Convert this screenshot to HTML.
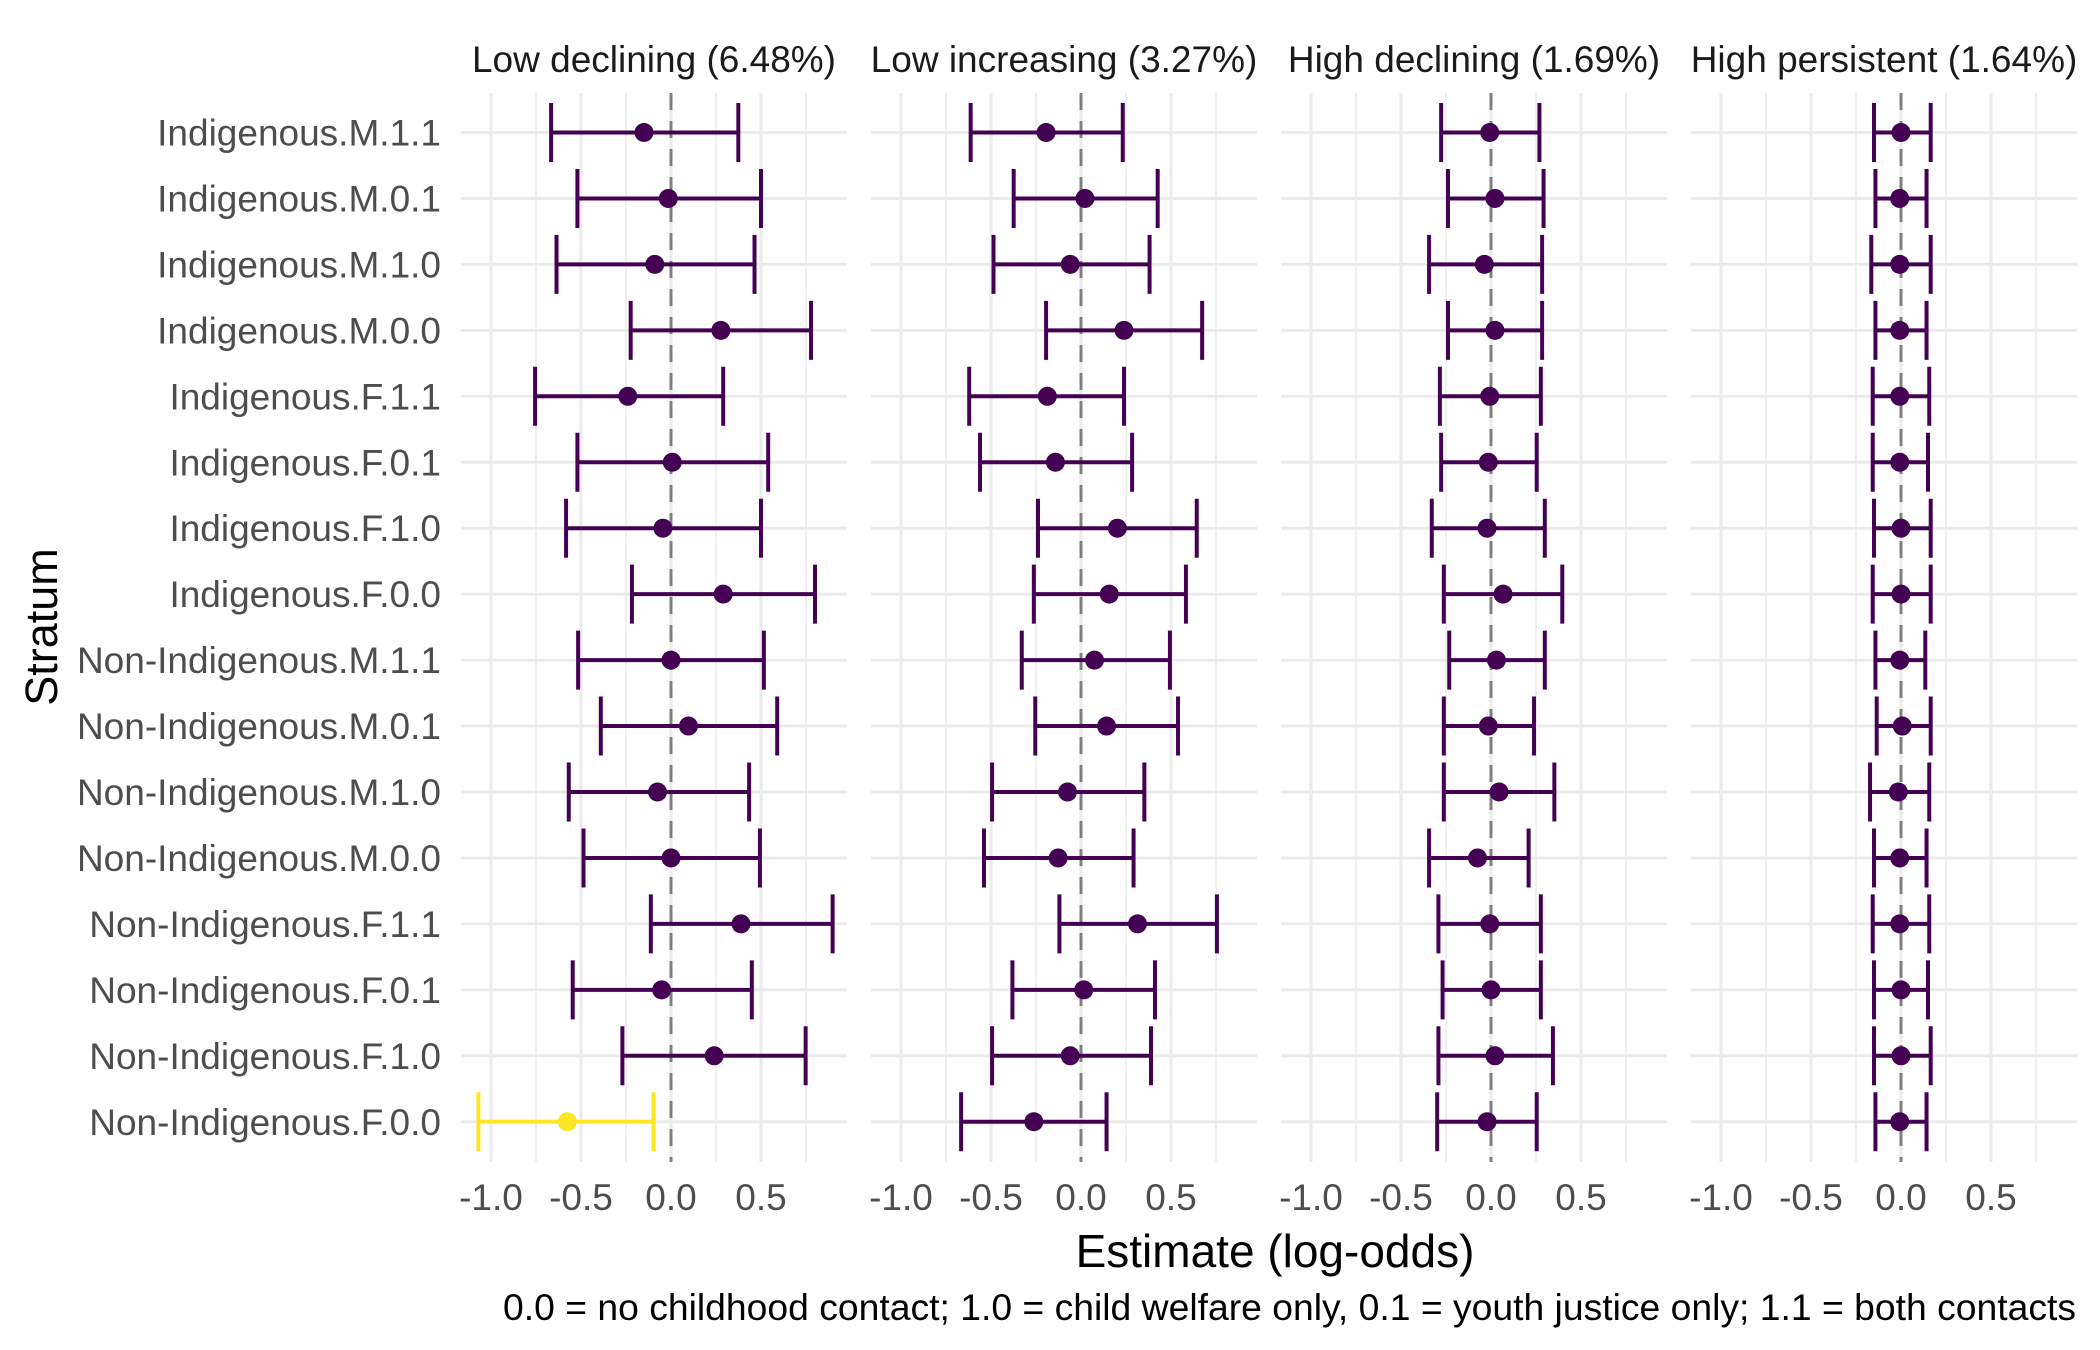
<!DOCTYPE html>
<html><head><meta charset="utf-8"><style>
html,body{margin:0;padding:0;background:#fff;}
svg{display:block;font-family:"Liberation Sans",sans-serif;}
</style></head><body>
<svg id="chart" width="2100" height="1350" viewBox="0 0 2100 1350" xmlns="http://www.w3.org/2000/svg">
<g id="grid"></g><g id="marks"></g><g id="labels"></g>
<text x="1275" y="1267" font-size="46" text-anchor="middle" fill="#000">Estimate (log-odds)</text>
<text transform="translate(57,627) rotate(-90)" font-size="45" text-anchor="middle" fill="#000">Stratum</text>
<text x="2076" y="1320" font-size="37.3" text-anchor="end" fill="#000">0.0 = no childhood contact; 1.0 = child welfare only, 0.1 = youth justice only; 1.1 = both contacts</text>
</svg>
<script>
const strata = ["Indigenous.M.1.1","Indigenous.M.0.1","Indigenous.M.1.0","Indigenous.M.0.0","Indigenous.F.1.1","Indigenous.F.0.1","Indigenous.F.1.0","Indigenous.F.0.0","Non-Indigenous.M.1.1","Non-Indigenous.M.0.1","Non-Indigenous.M.1.0","Non-Indigenous.M.0.0","Non-Indigenous.F.1.1","Non-Indigenous.F.0.1","Non-Indigenous.F.1.0","Non-Indigenous.F.0.0"];
const panelTitles = ["Low declining (6.48%)","Low increasing (3.27%)","High declining (1.69%)","High persistent (1.64%)"];
const tickValues = [-1.0,-0.5,0.0,0.5];
const tickLabels = ["-1.0","-0.5","0.0","0.5"];
const highlighted = [15];
const est1 = [-0.15,-0.015,-0.09,0.277,-0.24,0.007,-0.045,0.29,0,0.097,-0.075,0,0.389,-0.052,0.24,-0.576];
const lo1 = [-0.666,-0.52,-0.636,-0.224,-0.755,-0.52,-0.583,-0.217,-0.516,-0.39,-0.568,-0.486,-0.112,-0.546,-0.27,-1.07];
const hi1 = [0.374,0.50,0.464,0.778,0.29,0.54,0.50,0.80,0.516,0.59,0.434,0.494,0.898,0.449,0.748,-0.097];
const est2 = [-0.194,0.022,-0.06,0.239,-0.187,-0.142,0.202,0.157,0.075,0.142,-0.075,-0.127,0.314,0.015,-0.06,-0.262];
const lo2 = [-0.613,-0.374,-0.486,-0.194,-0.621,-0.561,-0.239,-0.262,-0.329,-0.254,-0.494,-0.539,-0.12,-0.381,-0.494,-0.666];
const hi2 = [0.232,0.426,0.381,0.673,0.239,0.284,0.643,0.583,0.494,0.539,0.352,0.292,0.755,0.411,0.389,0.142];
const est3 = [-0.007,0.022,-0.037,0.022,-0.007,-0.015,-0.022,0.067,0.03,-0.015,0.045,-0.075,-0.007,0,0.022,-0.022];
const lo3 = [-0.277,-0.239,-0.344,-0.239,-0.284,-0.277,-0.329,-0.262,-0.232,-0.262,-0.262,-0.344,-0.292,-0.269,-0.292,-0.299];
const hi3 = [0.269,0.292,0.284,0.284,0.277,0.254,0.299,0.396,0.299,0.239,0.352,0.209,0.277,0.277,0.344,0.254];
const est4 = [0,-0.007,-0.007,-0.007,-0.007,-0.007,0,0,-0.007,0.007,-0.015,-0.007,-0.007,0,0,-0.007];
const lo4 = [-0.15,-0.142,-0.165,-0.142,-0.157,-0.157,-0.15,-0.157,-0.142,-0.135,-0.172,-0.15,-0.157,-0.15,-0.15,-0.142];
const hi4 = [0.165,0.142,0.165,0.142,0.157,0.15,0.165,0.165,0.135,0.165,0.157,0.142,0.157,0.15,0.165,0.142];
const estimates = [est1,est2,est3,est4];
const lows = [lo1,lo2,lo3,lo4];
const highs = [hi1,hi2,hi3,hi4];

const NS="http://www.w3.org/2000/svg";
const panelLeft0=461, panelStep=410, panelW=386, zero0=671, unit=180;
const panelTop=93, panelBottom=1162, row0=132.5, rowStep=65.95;
function xScale(p,v){return zero0+p*panelStep+v*unit;}
function yScale(i){return row0+i*rowStep;}
function el(tag,attrs,parent){const e=document.createElementNS(NS,tag);for(const k in attrs)e.setAttribute(k,attrs[k]);parent.appendChild(e);return e;}
const grid=document.getElementById('grid'), marks=document.getElementById('marks'), labels=document.getElementById('labels');

for(let p=0;p<4;p++){
  const pl=panelLeft0+p*panelStep;
  for(let k=0;k<8;k++){
    const v=-1+k*0.25;
    const major=(k%2===0);
    const g=el('line',{x1:xScale(p,v),x2:xScale(p,v),y1:panelTop,y2:panelBottom,stroke:'#ebebeb','stroke-width':major?3:1.5},grid);
    
    
  }
  strata.forEach((s,i)=>{
    const g=el('line',{x1:pl,x2:pl+panelW,y1:yScale(i),y2:yScale(i),stroke:'#ebebeb','stroke-width':3},grid);
    
    
  });
  const z=el('line',{x1:xScale(p,0),x2:xScale(p,0),y1:panelTop,y2:panelBottom,stroke:'#7f7f7f','stroke-width':3,'stroke-dasharray':'17,11'},grid);
  
  
  const t=el('text',{x:pl+panelW/2,y:72,'font-size':37,'text-anchor':'middle',fill:'#1a1a1a'},labels);
  t.textContent=panelTitles[p];
  
  
  tickValues.forEach((v,k)=>{
    const tl=el('text',{x:xScale(p,v),y:1210,'font-size':37,'text-anchor':'middle',fill:'#4d4d4d'},labels);
    tl.textContent=tickLabels[k];
    
    
  });
  strata.forEach((s,i)=>{
    const col=highlighted.includes(i)&&p===0?'#FDE725':'#440154';
    const y=yScale(i), x1=xScale(p,lows[p][i]), x2=xScale(p,highs[p][i]);
    const g=el('g',{},marks);
    
    
    el('line',{x1:x1,x2:x2,y1:y,y2:y,stroke:col,'stroke-width':4},g);
    el('line',{x1:x1,x2:x1,y1:y-29.5,y2:y+29.5,stroke:col,'stroke-width':4},g);
    el('line',{x1:x2,x2:x2,y1:y-29.5,y2:y+29.5,stroke:col,'stroke-width':4},g);
    const c=el('circle',{cx:xScale(p,estimates[p][i]),cy:y,r:9.5,fill:col},marks);
    
    
  });
}
strata.forEach((s,i)=>{
  const t=el('text',{x:441,y:yScale(i)+13,'font-size':37,'text-anchor':'end',fill:'#4d4d4d'},labels);
  t.textContent=s;
  
  
});
</script>
</body></html>
